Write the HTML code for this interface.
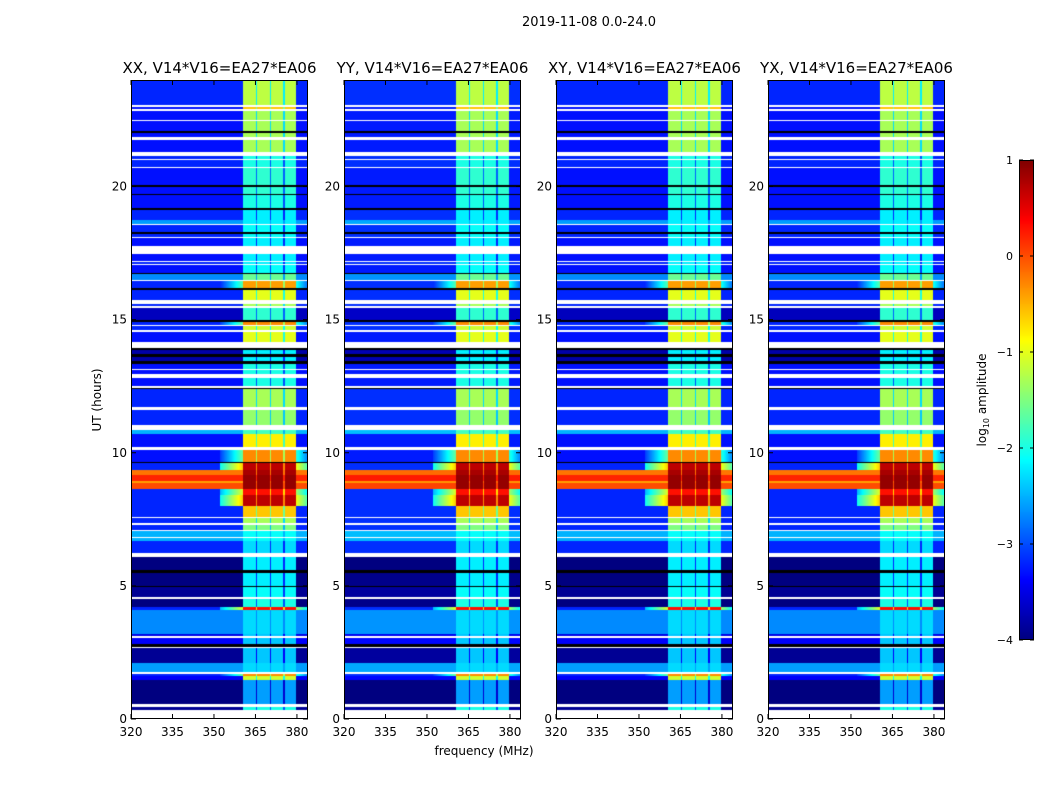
<!DOCTYPE html>
<html><head><meta charset="utf-8">
<style>
body{margin:0;background:#fff;}
#wrap{position:relative;width:1050px;height:800px;overflow:hidden;background:#fff;font-family:"DejaVu Sans","Liberation Sans",sans-serif;}
canvas{position:absolute;}
svg{position:absolute;left:0;top:0;font-family:"DejaVu Sans","Liberation Sans",sans-serif;}
</style></head>
<body>
<div id="wrap">
<canvas id="c0" width="177" height="639" style="left:131px;top:80px"></canvas>
<canvas id="c1" width="177" height="639" style="left:344px;top:80px"></canvas>
<canvas id="c2" width="177" height="639" style="left:556px;top:80px"></canvas>
<canvas id="c3" width="177" height="639" style="left:768px;top:80px"></canvas>
<canvas id="cb" width="15" height="480" style="left:1019px;top:160px"></canvas>
<svg id="ov" width="1050" height="800"></svg>
</div>
<script>
// ---- data ----
const panelTitles = ["XX, V14*V16=EA27*EA06","YY, V14*V16=EA27*EA06","XY, V14*V16=EA27*EA06","YX, V14*V16=EA27*EA06"];
const xTicks = [320,335,350,365,380];
const yTicks = [0,5,10,15,20];
const cbTicks = [1,0,-1,-2,-3,-4];
// time bands: start hour, end hour, background log10 amp, RFI-channel log10 amp ("W" = flagged/white, "K" = black)
const bandStart = [24.0,23.05,22.98,22.9,22.85,22.5,22.45,22.1,22.0,21.85,21.75,21.3,21.15,21.05,20.98,20.75,20.7,20.05,20.0,19.72,19.68,19.2,19.1,18.75,18.6,18.55,18.3,18.2,18.1,18.05,17.75,17.45,17.2,17.15,17.1,17.05,16.75,16.7,16.5,16.45,16.2,16.1,15.75,15.6,15.5,15.45,15.0,14.9,14.8,14.75,14.6,14.55,14.15,13.95,13.85,13.7,13.6,13.45,13.35,13.15,13.1,12.95,12.8,12.5,12.45,12.4,11.7,11.62,11.05,10.85,10.7,10.2,10.1,9.65,9.6,9.35,9.15,8.95,8.85,8.65,8.4,8.0,7.6,7.55,7.35,7.3,7.1,7.05,6.85,6.8,6.7,6.25,6.1,5.6,5.5,5.0,4.95,4.6,4.5,4.2,4.1,3.2,3.1,3.05,2.8,2.7,2.65,2.1,1.75,1.7,1.6,1.45,0.55,0.45,0.35];
const bandEnd   = [23.05,22.98,22.9,22.85,22.5,22.45,22.1,22.0,21.85,21.75,21.3,21.15,21.05,20.98,20.75,20.7,20.05,20.0,19.72,19.68,19.2,19.1,18.75,18.6,18.55,18.3,18.2,18.1,18.05,17.75,17.45,17.2,17.15,17.1,17.05,16.75,16.7,16.5,16.45,16.2,16.1,15.75,15.6,15.5,15.45,15.0,14.9,14.8,14.75,14.6,14.55,14.15,13.95,13.85,13.7,13.6,13.45,13.35,13.15,13.1,12.95,12.8,12.5,12.45,12.4,11.7,11.62,11.05,10.85,10.7,10.2,10.1,9.65,9.6,9.35,9.15,8.95,8.85,8.65,8.4,8.0,7.6,7.55,7.35,7.3,7.1,7.05,6.85,6.8,6.7,6.25,6.1,5.6,5.5,5.0,4.95,4.6,4.5,4.2,4.1,3.2,3.1,3.05,2.8,2.7,2.65,2.1,1.75,1.7,1.6,1.45,0.55,0.45,0.35,0.0];
const bandBg    = [-3.0,"W",-3.1,"W",-3.1,"W",-3.1,"K",-3.1,"W",-3.1,"W",-3.0,"W",-3.0,"W",-3.1,"K",-3.1,"K",-3.1,"K",-3.0,-2.4,"W",-3.0,"K",-3.0,"W",-3.1,"W",-3.1,"W",-3.0,"W",-3.1,"K",-2.5,"W",-3.0,"K",-3.0,"W",-3.0,"W",-3.5,"K",-3.0,"W",-3.0,"W",-3.1,"W","K",-3.6,"K",-3.6,"K",-3.1,"W",-3.1,"W",-3.1,"W","K",-3.0,"W",-3.0,"W",-2.3,-3.1,"W",-3.1,"K",-3.0,0.0,0.4,-0.2,0.2,-3.0,-3.0,-3.0,"W",-3.0,"W",-3.0,"W",-2.3,"W",-2.3,-3.0,"W",-3.9,"K",-3.8,"K",-3.7,"W",-3.8,-3.0,-2.5,-3.3,"W",-3.2,"K","W",-3.7,-2.4,"W",-3.0,-3.2,-4.3,"W",-3.7,"W"];
const bandRfi   = [-1.2,"W",-0.6,"W",-1.3,"W",-1.3,"K",-1.3,"W",-1.3,"W",-2.0,"W",-2.0,"W",-1.9,"K",-1.9,"K",-2.0,"K",-2.2,-2.2,"W",-2.1,"K",-2.1,"W",-2.2,"W",-2.2,"W",-2.2,"W",-2.1,"K",-1.6,"W",-0.4,"K",-1.0,"W",-1.3,"W",-1.9,"K",-0.3,"W",-1.1,"W",-1.0,"W","K",-2.2,"K",-2.2,"K",-2.0,"W",-2.0,"W",-2.0,"W","K",-1.3,"W",-1.4,"W",-1.8,-0.8,"W",-0.3,"K",0.7,0.8,0.9,0.9,0.9,0.3,0.7,-0.6,"W",-1.3,"W",-1.5,"W",-2.1,"W",-2.1,-2.3,"W",-2.2,"K",-2.2,"K",-2.1,"W",-2.0,0.3,-2.3,-2.4,"W",-2.4,"K","W",-2.4,-2.3,"W",-0.3,-1.1,-2.6,"W",-2.0,"W"];
// RFI channel blocks (MHz)
const rfiLo = [360.5,365.5,370.6,375.7];
const rfiHi = [365.2,370.3,375.0,379.6];
// per-panel background offsets
const panelBgOffset = [-0.2,-0.15,-0.2,-0.2];

// ---- scales ----
const FMIN=320,FMAX=384,TMIN=0,TMAX=24,PW=177,PH=639,PTOP=80;
const panelLeft=[131,344,556,768];
const fAt=px=>FMIN+(px+0.5)/PW*(FMAX-FMIN);
const tAt=py=>TMAX-(py+0.5)/PH*(TMAX-TMIN);
const xOf=f=>(f-FMIN)/(FMAX-FMIN)*PW;
const yOf=t=>PTOP+(TMAX-t)/(TMAX-TMIN)*PH;
function jet(v){let t=(v+4)/5;t=Math.max(0,Math.min(1,t));
 const c=x=>Math.round(255*Math.max(0,Math.min(1,x)));
 return [c(1.5-Math.abs(4*t-3)),c(1.5-Math.abs(4*t-2)),c(1.5-Math.abs(4*t-1))];}
function bandIndex(t){for(let i=0;i<bandStart.length;i++){if(t<=bandStart[i]&&t>=bandEnd[i])return i;}return -1;}
function value(t,f,p){
 const i=bandIndex(t); if(i<0) return "W";
 const bg=bandBg[i],rf=bandRfi[i];
 if(bg==="W"||bg==="K") return bg;
 let v=bg+panelBgOffset[p];
 for(let k=0;k<rfiLo.length;k++){
  if(f>=rfiLo[k]&&f<=rfiHi[k]) return Math.max(v,rf);
  if(k<rfiLo.length-1&&f>rfiHi[k]&&f<rfiLo[k+1]) return Math.max(v,rf-1.0);
 }
 if(rf>-0.5&&f>352&&f<rfiLo[0]) v=Math.max(v,rf-1.3-(rfiLo[0]-f)*0.18);
 if(rf>-0.5&&f>rfiHi[3]&&f<384) v=Math.max(v,rf-1.6-(f-rfiHi[3])*0.2);
 return v;
}
for(let p=0;p<4;p++){
 const cv=document.getElementById('c'+p),ctx=cv.getContext('2d');
 const img=ctx.createImageData(PW,PH);
 for(let y=0;y<PH;y++){const t=tAt(y);
  for(let x=0;x<PW;x++){const v=value(t,fAt(x),p);let col;
   if(v==="W")col=[255,255,255];else if(v==="K")col=[0,0,0];else col=jet(v);
   const o=(y*PW+x)*4;img.data[o]=col[0];img.data[o+1]=col[1];img.data[o+2]=col[2];img.data[o+3]=255;}}
 ctx.putImageData(img,0,0);
}
{const cv=document.getElementById('cb'),ctx=cv.getContext('2d');
 for(let y=0;y<480;y++){const v=1-(y+0.5)/480*5;const c=jet(v);ctx.fillStyle=`rgb(${c})`;ctx.fillRect(0,y,15,1);}}

// ---- overlay ----
const NS="http://www.w3.org/2000/svg",ov=document.getElementById('ov');
function el(tag,attrs,txt){const e=document.createElementNS(NS,tag);for(const k in attrs)e.setAttribute(k,attrs[k]);if(txt!==undefined)e.textContent=txt;ov.appendChild(e);return e;}
let e=el('text',{x:589,y:26,'text-anchor':'middle','font-size':13},"2019-11-08 0.0-24.0");


for(let p=0;p<4;p++){
 const L=panelLeft[p];
 e=el('rect',{x:L+0.5,y:PTOP+0.5,width:PW-1,height:PH-1,fill:'none',stroke:'#000','stroke-width':1});
 
 
 e=el('text',{x:L+PW/2,y:73,'text-anchor':'middle','font-size':15},panelTitles[p]);
 
 
 xTicks.forEach(f=>{const x=L+xOf(f);
  el('line',{x1:x,x2:x,y1:PTOP+PH,y2:PTOP+PH-5,stroke:'#000'});
  el('line',{x1:x,x2:x,y1:PTOP,y2:PTOP+5,stroke:'#000'});
  e=el('text',{x:x,y:736,'text-anchor':'middle','font-size':12},String(f));
  
  });
 yTicks.forEach(t=>{const y=yOf(t);
  el('line',{x1:L,x2:L+5,y1:y,y2:y,stroke:'#000'});
  el('line',{x1:L+PW,x2:L+PW-5,y1:y,y2:y,stroke:'#000'});
  e=el('text',{x:L-4,y:y+4,'text-anchor':'end','font-size':12},String(t));
  
  });
}
e=el('text',{x:484,y:755,'text-anchor':'middle','font-size':12},"frequency (MHz)");


e=el('text',{x:0,y:0,'text-anchor':'middle','font-size':12,transform:'translate(101,400) rotate(-90)'},"UT (hours)");


e=el('rect',{x:1019.5,y:160.5,width:14,height:479,fill:'none',stroke:'#000'});


cbTicks.forEach(v=>{const y=160+(1-v)/5*480;
 el('line',{x1:1019,x2:1023,y1:y,y2:y,stroke:'#000'});
 el('line',{x1:1030,x2:1034,y1:y,y2:y,stroke:'#000'});
 e=el('text',{x:1013,y:y+4,'text-anchor':'end','font-size':11},(v<0?"\u2212":"")+Math.abs(v));
 
 });
e=el('text',{x:0,y:0,'text-anchor':'middle','font-size':12,transform:'translate(986,400) rotate(-90)'});


e.innerHTML='log<tspan font-size="8" dy="3">10</tspan><tspan dy="-3"> amplitude</tspan>';
</script>
</body></html>
